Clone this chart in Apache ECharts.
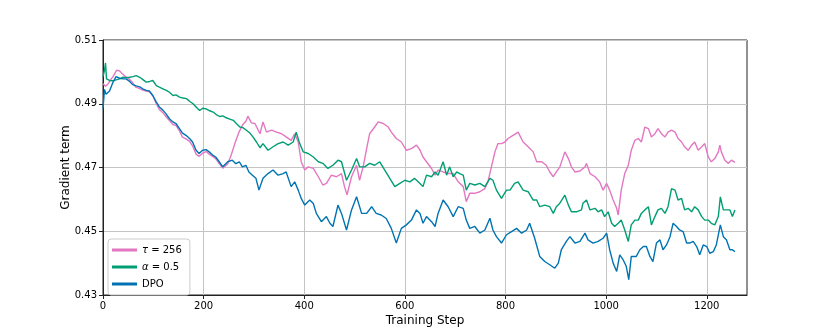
<!DOCTYPE html>
<html>
<head>
<meta charset="utf-8">
<script src="https://cdn.jsdelivr.net/npm/echarts@6/dist/echarts.min.js"></script>
<style>
  html, body { margin: 0; padding: 0; background: #fff; }
  #chart { width: 830px; height: 332px; }
</style>
</head>
<body>
<div id="chart"></div>
<script>
// ---- data ----
const xTicks = [0, 200, 400, 600, 800, 1000, 1200];
const yTicks = [0.43, 0.45, 0.47, 0.49, 0.51];

const seriesNames = ['τ = 256', 'α = 0.5', 'DPO'];

const tauSteps = [0,5,10,15,20,27,33,38,45,52,58,65,72,79,86,92,99,106,112,119,125,132,139,145,152,158,165,172,178,185,191,198,205,211,218,224,231,238,241,248,255,262,270,278,284,288,295,302,312,318,325,335,345,355,364,374,381,388,394,401,408,418,428,437,444,454,464,474,480,485,494,504,510,517,524,530,540,547,557,567,573,583,593,603,613,623,630,636,643,653,660,666,676,686,696,706,716,722,729,739,749,759,765,772,779,785,792,799,805,815,825,835,845,855,862,872,881,888,895,901,908,918,925,931,938,948,958,961,968,978,987,994,1001,1007,1014,1021,1024,1030,1037,1044,1050,1057,1064,1070,1077,1084,1090,1097,1103,1110,1117,1123,1130,1137,1143,1150,1156,1163,1170,1176,1183,1190,1196,1203,1209,1216,1223,1226,1229,1236,1243,1249,1256];
const tauValues = [0.4963,0.4955,0.4962,0.4975,0.4985,0.5005,0.5003,0.4995,0.4985,0.4978,0.4968,0.4952,0.4948,0.4943,0.494,0.4938,0.4925,0.49,0.4882,0.4872,0.486,0.4847,0.4835,0.4832,0.4815,0.4795,0.479,0.4782,0.4768,0.4742,0.4735,0.4745,0.475,0.4742,0.4735,0.4728,0.4712,0.4698,0.4693,0.4712,0.474,0.4775,0.481,0.4835,0.4845,0.4861,0.484,0.4838,0.4806,0.4843,0.4811,0.4817,0.4811,0.4806,0.4796,0.4785,0.4806,0.478,0.4718,0.4692,0.4702,0.4697,0.4671,0.4645,0.465,0.4676,0.4671,0.4681,0.464,0.4614,0.4671,0.4707,0.466,0.4702,0.4759,0.4806,0.4827,0.4843,0.4838,0.4827,0.4811,0.4791,0.478,0.4754,0.4759,0.477,0.4755,0.4733,0.4718,0.4697,0.4676,0.4692,0.4686,0.4681,0.4681,0.4655,0.464,0.4593,0.4619,0.4619,0.4624,0.4634,0.4655,0.4702,0.4749,0.4775,0.4775,0.478,0.4791,0.4801,0.4811,0.478,0.4765,0.4749,0.4718,0.4718,0.4707,0.4686,0.4671,0.4686,0.4702,0.4749,0.4728,0.4702,0.4686,0.4689,0.4702,0.4713,0.4681,0.4671,0.4655,0.4629,0.465,0.4629,0.4598,0.4572,0.4551,0.4629,0.4681,0.4707,0.4754,0.4785,0.4791,0.478,0.4827,0.4822,0.4796,0.4806,0.4822,0.4806,0.4796,0.4811,0.4817,0.4811,0.4791,0.478,0.4765,0.4754,0.477,0.478,0.4754,0.4765,0.4775,0.4733,0.4718,0.4728,0.4749,0.477,0.4749,0.4723,0.4713,0.4723,0.4716];

const alphaSteps = [0,3,5,7,13,20,26,33,39,46,53,60,66,73,80,86,93,99,106,112,119,126,132,139,145,152,159,166,172,179,186,192,198,205,212,219,225,232,238,245,252,259,265,272,278,285,292,298,305,312,318,328,338,348,358,368,378,384,391,398,408,418,428,437,447,457,467,474,484,494,504,510,520,530,540,550,560,570,580,590,600,610,619,630,636,643,653,660,666,676,683,689,696,703,709,716,722,729,739,749,759,769,775,782,792,802,809,818,825,835,845,855,862,868,878,888,895,901,908,918,925,931,941,951,954,961,968,978,984,991,997,1004,1011,1017,1024,1030,1037,1044,1050,1057,1064,1070,1077,1084,1090,1097,1103,1110,1117,1123,1130,1137,1143,1150,1156,1163,1170,1176,1183,1190,1196,1203,1209,1216,1223,1227,1233,1239,1246,1251,1256];
const alphaValues = [0.4985,0.5005,0.5028,0.4978,0.4973,0.4972,0.4975,0.4978,0.4983,0.4982,0.4983,0.4985,0.4988,0.4983,0.4975,0.4968,0.497,0.4973,0.4957,0.4952,0.4947,0.4942,0.4936,0.4926,0.4928,0.4921,0.4918,0.4916,0.4908,0.49,0.4888,0.4879,0.4886,0.4884,0.4878,0.4874,0.4866,0.486,0.4862,0.4856,0.4852,0.4848,0.4838,0.4827,0.4825,0.4817,0.4808,0.4796,0.478,0.4762,0.4775,0.4754,0.4765,0.4775,0.478,0.477,0.478,0.4811,0.4775,0.4749,0.4744,0.4733,0.4718,0.4713,0.4697,0.4707,0.4723,0.4718,0.466,0.4692,0.4728,0.4702,0.4702,0.4713,0.4707,0.4718,0.4692,0.4666,0.464,0.465,0.466,0.4655,0.4666,0.465,0.464,0.4676,0.4671,0.4686,0.4676,0.4718,0.4676,0.4702,0.4671,0.4686,0.4681,0.4676,0.4629,0.465,0.4645,0.465,0.464,0.4666,0.466,0.4629,0.4603,0.4629,0.4629,0.465,0.4655,0.4629,0.4624,0.4598,0.4598,0.4577,0.4582,0.4577,0.4556,0.4577,0.4588,0.4613,0.4582,0.4561,0.4561,0.4567,0.4588,0.4598,0.4567,0.4572,0.4561,0.4567,0.4546,0.4561,0.4525,0.4515,0.4525,0.4535,0.4504,0.4468,0.452,0.4535,0.4535,0.4556,0.4567,0.4577,0.452,0.4546,0.4567,0.4572,0.4556,0.4577,0.4634,0.4629,0.4598,0.4603,0.4567,0.4572,0.4561,0.4577,0.4567,0.4546,0.4535,0.4535,0.4525,0.452,0.4546,0.4608,0.4567,0.4567,0.4567,0.4546,0.4567];

const dpoSteps = [0,3,6,13,20,26,33,40,46,53,59,66,73,79,86,92,99,106,112,119,125,132,139,145,152,158,165,172,178,185,191,198,205,211,218,224,231,238,241,248,257,264,271,277,284,290,297,304,310,318,328,338,348,358,364,374,381,388,394,401,411,418,424,434,444,451,457,467,474,484,494,504,514,524,534,543,553,563,573,583,593,603,613,623,630,636,643,653,660,666,676,686,696,706,716,722,729,739,749,759,769,775,782,792,802,812,822,832,842,848,858,868,878,888,898,905,911,921,928,938,948,958,964,974,984,994,1001,1007,1014,1021,1027,1034,1040,1045,1050,1060,1067,1074,1080,1087,1093,1100,1107,1113,1120,1127,1133,1140,1146,1153,1160,1166,1173,1180,1186,1193,1200,1206,1213,1219,1227,1233,1239,1246,1251,1256];
const dpoValues = [0.4885,0.4945,0.493,0.494,0.4968,0.4985,0.498,0.4978,0.4978,0.497,0.496,0.4956,0.4953,0.4947,0.4942,0.494,0.4926,0.4905,0.489,0.488,0.4869,0.4853,0.4843,0.4838,0.4822,0.4808,0.4801,0.4791,0.478,0.4754,0.4744,0.4754,0.4756,0.4749,0.4739,0.4733,0.4718,0.4702,0.4697,0.4718,0.4723,0.4712,0.4718,0.4702,0.4707,0.4686,0.4676,0.4666,0.4629,0.4666,0.4681,0.4692,0.4676,0.4681,0.4686,0.464,0.4655,0.4629,0.4603,0.4582,0.4598,0.4587,0.4556,0.453,0.4546,0.4525,0.4515,0.4582,0.4556,0.4504,0.4567,0.4608,0.4556,0.4556,0.4577,0.4556,0.4551,0.454,0.4509,0.4463,0.4509,0.452,0.4535,0.4567,0.4556,0.4525,0.4546,0.453,0.4515,0.4556,0.4598,0.4577,0.4546,0.4577,0.4572,0.4535,0.4509,0.4515,0.4494,0.4504,0.4541,0.4504,0.4483,0.4463,0.4489,0.4499,0.4509,0.4494,0.4504,0.4525,0.4478,0.4421,0.4405,0.4395,0.4384,0.44,0.4442,0.4468,0.4483,0.4463,0.4468,0.4494,0.4473,0.4463,0.4468,0.4478,0.4494,0.4442,0.44,0.4374,0.4426,0.441,0.439,0.4348,0.4421,0.4421,0.4442,0.4452,0.4452,0.4421,0.4405,0.4463,0.4473,0.4442,0.4457,0.4483,0.4525,0.4515,0.4504,0.4499,0.4463,0.4463,0.4468,0.4452,0.4426,0.4457,0.4452,0.4431,0.4436,0.4457,0.452,0.4483,0.4473,0.4442,0.4442,0.4436];

const colors = ['#e377c2', '#029e73', '#0173b2'];

// ---- chart ----
function zip(xs, ys) { return xs.map((x, i) => [x, ys[i]]); }

const chart = echarts.init(document.getElementById('chart'), null, { renderer: 'canvas' });
const font = 'DejaVu Sans';
const gridColor = '#c4c4c4';

chart.setOption({
  animation: false,
  backgroundColor: '#ffffff',
  grid: {
    left: 103, right: 83, top: 40, bottom: 37,
    show: true, borderColor: '#222', borderWidth: 1, backgroundColor: 'transparent'
  },
  xAxis: {
    type: 'value', min: 0, max: 1280,
    name: 'Training Step', nameLocation: 'middle', nameGap: 20, nameMoveOverlap: false,
    nameTextStyle: { fontFamily: font, fontSize: 12, color: '#000' },
    axisLine: { show: true, lineStyle: { color: '#222', width: 1 } },
    axisTick: { show: true, inside: false, length: 4, lineStyle: { color: '#222' }, customValues: xTicks },
    axisLabel: { fontFamily: font, fontSize: 10, color: '#000', margin: 6, customValues: xTicks,
                 formatter: v => String(Math.round(v)) },
    splitLine: { show: true, lineStyle: { color: gridColor, width: 1 } }
  },
  yAxis: {
    type: 'value', min: 0.43, max: 0.51,
    name: 'Gradient term', nameLocation: 'middle', nameGap: 31, nameRotate: 90, nameMoveOverlap: false,
    nameTextStyle: { fontFamily: font, fontSize: 12, color: '#000' },
    axisLine: { show: true, lineStyle: { color: '#222', width: 1 } },
    axisTick: { show: true, inside: false, length: 4, lineStyle: { color: '#222' }, customValues: yTicks },
    axisLabel: { fontFamily: font, fontSize: 10, color: '#000', margin: 6, customValues: yTicks,
                 formatter: v => Number(v).toFixed(2) },
    splitLine: { show: true, lineStyle: { color: gridColor, width: 1 } }
  },
  legend: {
    left: 108, top: 239, orient: 'vertical',
    data: seriesNames,
    icon: 'rect', itemWidth: 25, itemHeight: 3, itemGap: 3,
    padding: [4, 8, 4, 4],
    backgroundColor: 'rgba(255,255,255,0.85)',
    borderColor: '#cccccc', borderWidth: 1, borderRadius: 3,
    textStyle: { fontFamily: font, fontSize: 10, color: '#000', lineHeight: 14,
                 rich: { i: { fontFamily: font, fontStyle: 'italic', fontSize: 10, lineHeight: 14 } } },
    formatter: n => n.replace(/^([τα])/, '{i|$1}')
  },
  series: [
    { name: seriesNames[0], type: 'line', data: zip(tauSteps, tauValues), showSymbol: false, color: colors[0], lineStyle: { width: 1.4 }, z: 2 },
    { name: seriesNames[1], type: 'line', data: zip(alphaSteps, alphaValues), showSymbol: false, color: colors[1], lineStyle: { width: 1.4 }, z: 3 },
    { name: seriesNames[2], type: 'line', data: zip(dpoSteps, dpoValues), showSymbol: false, color: colors[2], lineStyle: { width: 1.4 }, z: 4 }
  ]
});
</script>
</body>
</html>
